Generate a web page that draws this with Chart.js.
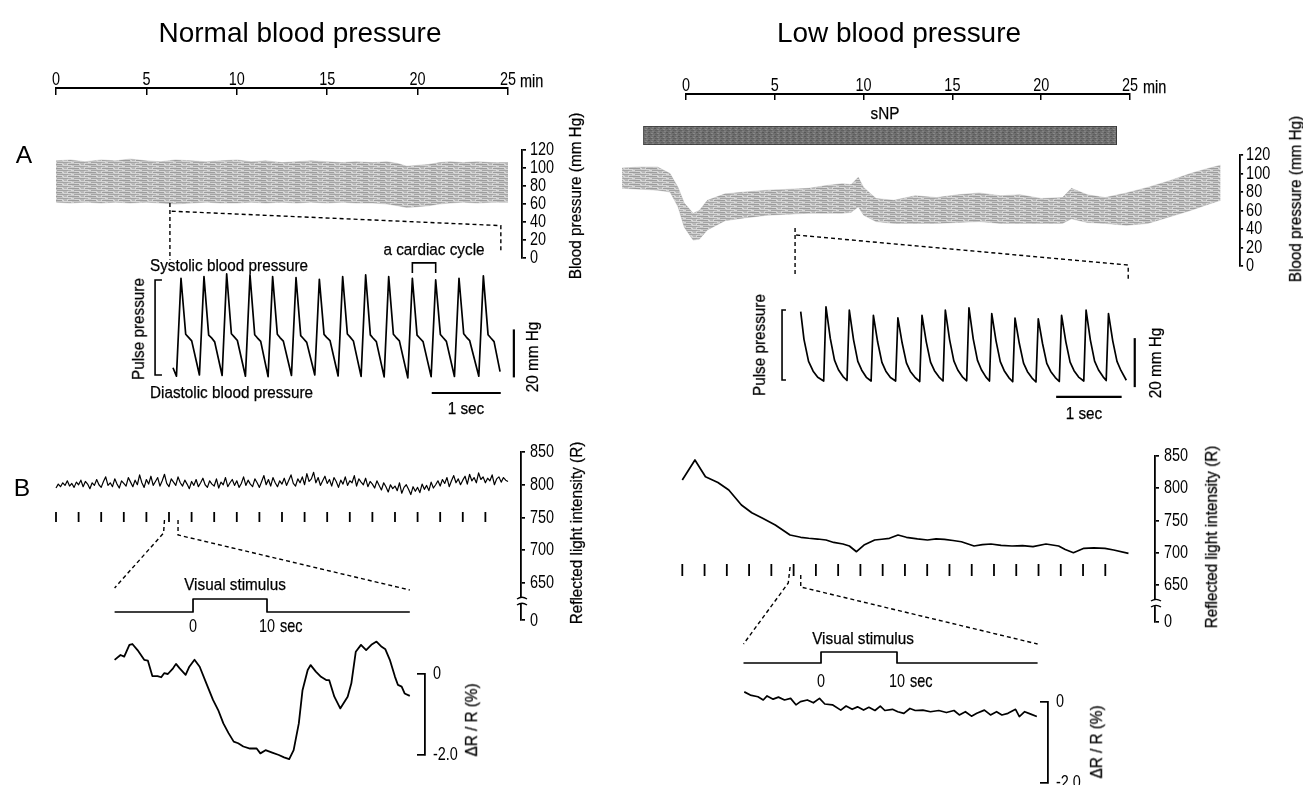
<!DOCTYPE html>
<html>
<head>
<meta charset="utf-8">
<title>Normal vs low blood pressure</title>
<script src="https://cdn.jsdelivr.net/npm/chart.js@4.4.1/dist/chart.umd.min.js"></script>
<style>
html,body{margin:0;padding:0;background:#fff;}
#fig{position:relative;width:1303px;height:785px;overflow:hidden;background:#fff;}
#fig canvas{position:absolute;left:0;top:0;}
.t{position:absolute;white-space:nowrap;color:#000;line-height:1;z-index:5;-webkit-text-stroke:0.25px #000;}
.c{transform-origin:50% 50%;}
.l{transform-origin:0 50%;}
.r{transform-origin:50% 50%;}
</style>
</head>
<body>
<div id="fig"></div>
<script>
// ================= DATA =================
const TIME_TICKS_MIN = [0, 5, 10, 15, 20, 25];
const BP_TICKS = [0, 20, 40, 60, 80, 100, 120];
const R_TICK_POS = [593, 650, 700, 750, 800, 850];      // 593 = position of the "0" below the axis break
const R_TICK_LABELS = ['0', '650', '700', '750', '800', '850'];
const DR_TICKS = [-2, 0];
const DR_TICK_LABELS = ['-2.0', '0'];
const STIM_LABEL_TICKS = [0, 10];
const STIM_TICK_LABELS = ['0', '10'];
const STIM_TIMES_MIN = [0, 1.25, 2.5, 3.75, 5, 6.25, 7.5, 8.75, 10, 11.25, 12.5, 13.75, 15, 16.25, 17.5, 18.75, 20, 21.25, 22.5, 23.75];
const STIM_STEP_V = [0, 0, 1, 1, 0, 0];

// ---- Normal blood pressure ----
const BP_L_T   = [0, 0.8, 1.6, 2.5, 3.3, 4.1, 5.0, 5.8, 6.6, 7.5, 8.3, 9.1, 10.0, 10.8, 11.6, 12.5, 13.3, 14.1, 15.0, 15.8, 16.6, 17.5, 18.3, 18.9, 19.4, 20.0, 20.6, 21.2, 21.8, 22.5, 23.3, 24.1, 25.0];
const BP_L_TOP = [108, 109, 107, 109, 108, 110, 108, 107, 109, 108, 107, 108, 109, 107, 108, 106, 107, 108, 107, 106, 107, 106, 107, 105, 102, 103, 104, 106, 107, 106, 107, 106, 106];
const BP_L_BOT = [62, 61, 62, 61, 62, 61, 62, 61, 60, 61, 62, 61, 61, 62, 61, 62, 61, 62, 61, 62, 61, 61, 60, 58, 56, 57, 58, 60, 61, 62, 61, 62, 62];

const PULSE_L_T = [0, 0.05, 0.116, 0.184, 0.222, 0.271, 0.383, 0.449, 0.517, 0.555, 0.604, 0.712, 0.778, 0.846, 0.884, 0.933, 1.05, 1.116, 1.184, 1.222, 1.271, 1.378, 1.444, 1.512, 1.55, 1.599, 1.717, 1.783, 1.851, 1.889, 1.938, 2.055, 2.121, 2.189, 2.227, 2.276, 2.393, 2.459, 2.527, 2.565, 2.614, 2.726, 2.792, 2.86, 2.898, 2.947, 3.06, 3.126, 3.194, 3.232, 3.281, 3.403, 3.469, 3.537, 3.575, 3.624, 3.741, 3.807, 3.875, 3.913, 3.962, 4.079, 4.145, 4.213, 4.251, 4.3, 4.432, 4.498, 4.566, 4.604, 4.653, 4.74];
const PULSE_L_V = [67, 63.5, 104.3, 81, 79.8, 78.2, 64, 105, 80.6, 79.6, 77.8, 63.8, 106.1, 81.2, 80, 78.4, 63.5, 105.7, 80.8, 79.5, 78, 63.3, 105, 81, 79.6, 78.1, 63.8, 104.6, 80.4, 79.2, 77.6, 64, 103.9, 80.9, 79.7, 78.3, 63.6, 105, 81.1, 79.9, 78.2, 63.4, 105.7, 80.7, 79.4, 77.9, 63.2, 105, 81, 79.7, 78.2, 62.8, 104.3, 80.6, 79.4, 77.9, 63.3, 103.6, 80.9, 79.6, 78, 63.4, 104.3, 81.2, 79.8, 78.3, 63.5, 105.3, 80.8, 79.5, 77.9, 65.4];

const REFL_L_STEP_MIN = 0.125;
const REFL_L_V = [795,801,797,803,799,806,798,802,796,804, 800,807,797,805,801,794,803,799,808,800,
  796,805,812,799,803,797,809,801,795,806, 802,798,811,804,797,807,800,815,803,796,
  808,801,813,799,805,811,798,806,816,802, 797,809,804,799,812,803,798,807,801,794,
  805,799,808,797,803,810,800,796,806,801, 798,809,795,804,800,811,797,803,808,799,
  806,796,802,812,799,807,801,797,809,803, 796,805,814,800,808,798,811,803,797,806,
  801,810,799,807,815,802,798,809,803,812, 800,817,805,809,819,803,811,799,806,813,
  802,808,798,811,805,796,807,801,812,799, 806,803,814,798,809,804,800,810,797,805,
  801,795,806,799,792,803,797,789,800,794, 798,791,803,787,796,800,793,785,797,790,
  796,788,801,793,799,791,804,795,800,806, 798,808,802,811,797,806,814,803,809,800,
  807,813,801,816,806,811,803,818,808,812, 803,810,806,815,800,809,812,804,811,807, 805];

const STIM_STEP_T_L = [-10.6, 0, 0, 10, 10, 29.3];
const DR_L_T = [-10.6,-9.8,-9.3,-8.6,-8.2,-7.5,-6.6,-6.1,-5.5,-4.8,-4.3,-3.9,-3.4,-2.7,-2.3,-1.8,-1.0,-0.5,0.2,0.9,1.8,2.7,3.4,4.1,4.8,5.5,6.1,6.8,7.7,8.6,9.1,9.8,10.7,11.6,12.3,13.0,13.6,14.3,14.8,15.5,15.9,16.6,17.3,18.0,18.4,19.1,19.9,20.9,21.4,22.0,22.7,23.4,24.1,24.8,25.5,26.0,26.6,27.3,27.7,28.2,28.6,29.3];
const DR_L_V = [0.35,0.47,0.43,0.72,0.74,0.59,0.35,0.33,-0.05,-0.05,-0.08,0.02,0,0.14,0.25,0.14,-0.02,0.18,0.35,0.18,-0.23,-0.64,-0.89,-1.22,-1.46,-1.67,-1.71,-1.79,-1.84,-1.84,-1.96,-1.88,-1.94,-2.0,-2.06,-2.1,-1.88,-1.22,-0.4,0.1,0.22,0.06,-0.07,-0.15,-0.15,-0.56,-0.85,-0.56,-0.23,0.55,0.72,0.59,0.72,0.8,0.67,0.61,0.35,-0.07,-0.27,-0.31,-0.48,-0.54];

// ---- Low blood pressure ----
const SNP_MIN = [-2.4, 24.25];
const BP_R_T   = [-3.6, -2.6, -1.6, -0.9, -0.45, -0.1, 0.4, 0.75, 1.2, 2.2, 3.3, 4.6, 5.8, 6.9, 7.9, 8.8, 9.3, 9.7, 10.0, 10.7, 11.7, 12.9, 14.1, 15.3, 16.5, 17.7, 18.8, 20.0, 21.2, 21.7, 22.6, 23.6, 24.8, 26.0, 27.2, 28.4, 29.3, 30.1];
const BP_R_TOP = [106, 107, 107, 100, 85, 68, 57, 60, 71, 78, 80, 82, 83, 84, 87, 89, 88, 96, 85, 73, 71, 76, 74, 77, 79, 76, 77, 73, 74, 84, 77, 74, 79, 85, 92, 100, 105, 109];
const BP_R_BOT = [84, 83, 82, 80, 64, 42, 28, 29, 39, 49, 52, 55, 56, 57, 57, 57, 58, 64, 55, 48, 46, 46, 46, 47, 48, 46, 46, 46, 46, 51, 47, 46, 44, 46, 53, 60, 66, 71];

const PULSE_R_T = [0, 0.05, 0.12, 0.19, 0.26, 0.351,
  0.386, 0.451, 0.516, 0.576, 0.646, 0.707,  0.742, 0.807, 0.872, 0.932, 1.002, 1.075,
  1.11, 1.175, 1.24, 1.3, 1.37, 1.449,  1.484, 1.549, 1.614, 1.674, 1.744, 1.817,
  1.852, 1.917, 1.982, 2.042, 2.112, 2.173,  2.208, 2.273, 2.338, 2.398, 2.468, 2.534,
  2.569, 2.634, 2.699, 2.759, 2.829, 2.882,  2.917, 2.982, 3.047, 3.107, 3.177, 3.237,
  3.272, 3.337, 3.402, 3.462, 3.532, 3.592,  3.627, 3.692, 3.757, 3.817, 3.887, 3.948,
  3.983, 4.048, 4.113, 4.173, 4.243, 4.322,  4.357, 4.422, 4.487, 4.547, 4.617, 4.664,
  4.699, 4.764, 4.829, 4.889, 4.971];
const PULSE_R_V = [73.3, 62, 53, 49, 46.5, 45,
  75.3, 62.5, 53.5, 49.6, 46.8, 45.2,  73.9, 61.8, 53, 49.4, 46.5, 45,
  71.8, 60.9, 52.6, 49, 46.4, 45,  70.8, 60.5, 52.4, 48.9, 46.5, 44.8,
  71.8, 61, 52.7, 49.2, 46.6, 45,  73.9, 61.9, 53.2, 49.5, 46.7, 45.1,
  74.9, 62.2, 53.4, 49.6, 46.6, 45,  72.5, 61.4, 52.9, 49.2, 46.4, 44.7,
  70.7, 60.4, 52.3, 48.8, 46.2, 44.6,  70.4, 60.3, 52.2, 48.9, 46.4, 44.8,
  71.8, 61, 52.7, 49.2, 46.6, 45,  73.9, 61.8, 53.1, 49.5, 46.7, 45.2,
  72.5, 61.4, 53, 49.3, 45.3];

const REFL_R_T = [0,0.71,1.3,2.0,2.61,3.32,3.9,4.51,5.22,6.05,6.65,7.1,7.6,8.07,8.5,9.02,9.38,9.78,10.2,10.8,11.2,11.63,12.11,12.58,13.2,13.77,14.25,14.72,15.2,15.67,16.38,16.85,17.33,17.9,18.51,19.1,19.69,20.42,21.13,21.5,21.96,22.55,23.1,23.73,24.22,25.05];
const REFL_R_V = [812.8,843.8,817.9,809,797.3,774,762,753.4,743,727.5,724,722.5,721.3,719.8,716,713.6,710.5,701.6,712,719.8,721,722.4,727.5,724,721.5,719.8,721.5,720.9,719,717.1,710.5,712.5,713.6,711.5,710.5,711,709.4,713.6,710.5,705,700.1,706.9,707.5,706.9,704.3,699.1];

const STIM_STEP_T_R = [-10.2, 0, 0, 10, 10, 28.5];
const DR_R_T = [-10.1,-9.3,-8.3,-7.6,-7.1,-6.3,-5.6,-4.8,-4.0,-3.3,-2.7,-1.8,-1.0,-0.2,0.5,1.5,2.6,3.3,4.1,4.8,5.6,6.3,7.1,7.8,8.4,9.4,10.1,10.9,11.7,12.4,13.4,14.4,15.5,16.5,17.5,18.2,19.0,19.8,20.5,21.5,22.3,23.1,23.8,24.6,25.6,26.1,26.8,27.6,28.4];
const DR_R_V = [0.25,0.17,0.13,0.05,0.15,0.07,0.12,0.05,0.09,-0.07,0.01,0.05,-0.02,0.09,-0.05,-0.07,-0.2,-0.1,-0.18,-0.12,-0.2,-0.13,-0.21,-0.1,-0.21,-0.18,-0.24,-0.28,-0.16,-0.21,-0.2,-0.24,-0.21,-0.26,-0.21,-0.32,-0.24,-0.35,-0.28,-0.2,-0.32,-0.24,-0.32,-0.28,-0.18,-0.36,-0.24,-0.3,-0.36];

// ================= FONTS =================
const FIG = document.getElementById('fig');
const CW = 1360, CHH = 840;
const meas = document.createElement('canvas').getContext('2d');
function tw(str, fam, size) { meas.font = size + 'px ' + fam; return meas.measureText(str).width; }
const SANS = '"Liberation Sans", Arial, Helvetica, sans-serif';
const LBL_SIZE = 16.3;                                                   // cap height ~11.7 px
const LBL_SQUEEZE = Math.min(1, 158 / tw('Systolic blood pressure', SANS, LBL_SIZE));
const TICK_SIZE = 19;
const TICK_SQUEEZE = 0.76;                                               // condensed look of the tick numerals
const TITLE_SIZE = 100 * 283 / tw('Normal blood pressure', SANS, 100);
const INK = '#000';
Chart.defaults.color = INK;
Chart.defaults.font.family = SANS;

// condensed tick numerals (Helvetica Condensed look): squeeze text horizontally about its anchor
Chart.register({ id: 'condense', beforeDraw(c) {
  const ctx = c.ctx; if (ctx.__condensed) return; ctx.__condensed = true;
  const orig = ctx.fillText.bind(ctx);
  ctx.fillText = function (text, x, y) { ctx.save(); ctx.translate(x, y); ctx.scale(TICK_SQUEEZE, 1); orig(text, 0, 0); ctx.restore(); };
} });

// ================= HELPERS =================
const CH = {};
const xy = (T, V) => T.map((t, i) => ({ x: t, y: V[i] }));
const hid = (min, max) => ({ type: 'linear', display: false, min, max });
const tickFont = () => ({ family: SANS, size: TICK_SIZE });
function trace(T, V, w) {
  return { data: xy(T, V), borderColor: INK, borderWidth: w, pointRadius: 0, tension: 0, fill: false, clip: false, borderJoinStyle: 'round' };
}
function makeChart(key, box, config, ax) {
  ax = ax || {};
  const cv = document.createElement('canvas');
  cv.width = CW; cv.height = CHH;
  cv.style.width = CW + 'px'; cv.style.height = CHH + 'px';
  FIG.appendChild(cv);
  const o = config.options || (config.options = {});
  o.responsive = false; o.maintainAspectRatio = false; o.animation = false; o.events = []; o.devicePixelRatio = 1;
  o.layout = { padding: { left: box.l, top: box.t - (ax.top || 0), right: CW - box.r - (ax.right || 0), bottom: CHH - box.b - (ax.bottom || 0) } };
  o.plugins = Object.assign({ legend: { display: false }, tooltip: { enabled: false } }, o.plugins || {});
  CH[key] = new Chart(cv, config);
  return CH[key];
}
function topTimeAxis(h) {
  return { type: 'linear', position: 'top', min: 0, max: 25,
    afterBuildTicks: s => { s.ticks = TIME_TICKS_MIN.map(v => ({ value: v })); },
    afterFit: s => { s.height = h; },
    ticks: { autoSkip: false, maxRotation: 0, minRotation: 0, color: INK, font: tickFont(), padding: 8 - 0.6 * TICK_SIZE, callback: v => String(v) },
    grid: { display: true, drawOnChartArea: true, drawTicks: false, color: INK, lineWidth: 1.5 },
    border: { display: true, color: INK, width: 2 } };
}
const outTicks = { display: true, drawOnChartArea: false, drawTicks: true, tickLength: 4, color: INK, lineWidth: 1.7 };
const inTicks = { display: true, drawOnChartArea: true, drawTicks: false, color: INK, lineWidth: 1.7 };
function rightAxis(min, max, vals, labels, w, pad, grid) {
  return { type: 'linear', position: 'right', min, max,
    afterBuildTicks: s => { s.ticks = vals.map(v => ({ value: v })); },
    afterFit: s => { s.width = w; },
    ticks: { autoSkip: false, color: INK, font: tickFont(), padding: pad, callback: (v, i) => labels[i] },
    grid, border: { display: true, color: INK, width: 1.8 } };
}
function stimAxis(min, max, pad) {
  return { type: 'linear', position: 'bottom', min, max,
    afterBuildTicks: s => { s.ticks = STIM_LABEL_TICKS.map(v => ({ value: v })); },
    afterFit: s => { s.height = 30; },
    ticks: { autoSkip: false, maxRotation: 0, minRotation: 0, color: INK, font: tickFont(), padding: pad, callback: (v, i) => STIM_TICK_LABELS[i] },
    grid: { display: false, drawTicks: false }, border: { display: false } };
}
function strokePts(ctx, pts, dash, w) {
  ctx.save();
  ctx.strokeStyle = INK; ctx.lineWidth = w || 1.4; ctx.setLineDash(dash || []);
  ctx.beginPath();
  pts.forEach((p, i) => i ? ctx.lineTo(p[0], p[1]) : ctx.moveTo(p[0], p[1]));
  ctx.stroke(); ctx.restore();
}
const DASH = [4, 3];
function scaleFns(c) {
  return [v => c.scales.x.getPixelForValue(v), v => c.scales.y.getPixelForValue(v)];
}
// dashed "zoom" guides from the band (values in the chart's own units)
function zoomA(lines) {
  return { id: 'zoomA', afterDraw(c) {
    const [X, Y] = scaleFns(c);
    lines.forEach(L => strokePts(c.ctx, L.map(p => [X(p[0]), Y(p[1])]), DASH, 1.4));
  } };
}
// brackets and calibration bars of the pulse traces
function pulseDecor(p) {
  return { id: 'pulseDecor', afterDraw(c) {
    const [X, Y] = scaleFns(c), ctx = c.ctx;
    strokePts(ctx, [[X(p.br[1]), Y(p.br[2])], [X(p.br[0]), Y(p.br[2])], [X(p.br[0]), Y(p.br[3])], [X(p.br[1]), Y(p.br[3])]], null, 1.6);
    strokePts(ctx, [[X(p.vbar[0]), Y(p.vbar[1])], [X(p.vbar[0]), Y(p.vbar[2])]], null, 2.2);
    strokePts(ctx, [[X(p.hbar[0]), Y(p.hbar[2])], [X(p.hbar[1]), Y(p.hbar[2])]], null, 2.2);
    if (p.cyc) strokePts(ctx, [[X(p.cyc[0]), Y(p.cyc[3])], [X(p.cyc[0]), Y(p.cyc[2])], [X(p.cyc[1]), Y(p.cyc[2])], [X(p.cyc[1]), Y(p.cyc[3])]], null, 1.6);
  } };
}
function breakMark(val) {
  return { id: 'brk', afterDraw(c) {
    const s = c.scales.y, x = s.left + 1, y = s.getPixelForValue(val), ctx = c.ctx;
    ctx.save(); ctx.fillStyle = '#fff'; ctx.fillRect(x - 3, y - 3, 6, 6);
    ctx.strokeStyle = INK; ctx.lineWidth = 1.3;
    [-3, 3].forEach(d => { ctx.beginPath(); ctx.moveTo(x - 5, y + d + 1); ctx.quadraticCurveTo(x, y + d - 2.5, x + 5, y + d + 1); ctx.stroke(); });
    ctx.restore();
  } };
}
function zoomB(tickKey, pts) {
  return { id: 'zoomB', afterDraw(c) {
    const T = CH[tickKey], tx = v => T.scales.x.getPixelForValue(v), tb = T.chartArea.bottom;
    const sx = v => c.scales.x.getPixelForValue(v), st = c.chartArea.top;
    pts.forEach(p => strokePts(c.ctx, [[tx(p[0]), tb + p[1]], [tx(p[2]), tb + p[3]], [sx(p[4]), st + p[5]]], DASH, 1.4));
  } };
}
function tile(w, h, base, specks) {
  const pc = document.createElement('canvas'); pc.width = w; pc.height = h;
  const g = pc.getContext('2d'); g.fillStyle = base; g.fillRect(0, 0, w, h);
  specks.forEach(s => { g.fillStyle = s[0]; g.fillRect(s[1], s[2], s[3], s[4]); });
  return g.createPattern(pc, 'repeat');
}
// streaky horizontal hatching like the chart-recorder band
const BAND_FILL = tile(17, 4, '#d6d6d6', [
  ['#9c9c9c', 0, 0, 11, 1], ['#b4b4b4', 13, 0, 3, 1],
  ['#c4c4c4', 4, 1, 8, 1],
  ['#a4a4a4', 6, 2, 11, 1], ['#b0b0b0', 0, 2, 3, 1],
  ['#cacaca', 1, 3, 6, 1], ['#bcbcbc', 12, 3, 4, 1]]);
const SNP_FILL = tile(6, 4, '#707070', [['#585858', 0, 0, 2, 1], ['#888888', 3, 1, 2, 1], ['#606060', 1, 2, 3, 1], ['#828282', 4, 3, 2, 1]]);
function band(T, TOP, BOT) {
  return [
    { data: xy(T, TOP), borderColor: 'rgba(140,140,140,0.45)', borderWidth: 0.6, pointRadius: 0, fill: false, tension: 0 },
    { data: xy(T, BOT), borderColor: 'rgba(140,140,140,0.45)', borderWidth: 0.6, pointRadius: 0, fill: '-1', backgroundColor: BAND_FILL, tension: 0 }
  ];
}

// ================= NORMAL BLOOD PRESSURE (left) =================
makeChart('timeL', { l: 56, r: 508, t: 88, b: 95 },
  { type: 'scatter', data: { datasets: [] }, options: { scales: { x: topTimeAxis(26), y: hid(0, 1) } } }, { top: 26 });

makeChart('bpL', { l: 56, r: 522, t: 150, b: 258 },
  { type: 'line', data: { datasets: band(BP_L_T, BP_L_TOP, BP_L_BOT) },
    options: { scales: { x: hid(0, 25.77), y: rightAxis(0, 120, BP_TICKS, BP_TICKS.map(String), 48, 4, outTicks) } },
    plugins: [zoomA([[[6.3, 61], [6.3, -2]], [[6.4, 52], [24.6, 36], [24.6, 8]]])] }, { right: 48 });

makeChart('pulseL', { l: 173, r: 500.75, t: 269.4, b: 384.6 },
  { type: 'line', data: { datasets: [trace(PULSE_L_T, PULSE_L_V, 1.7)] },
    options: { scales: { x: hid(0, 4.75), y: hid(60, 108) } },
    plugins: [pulseDecor({ br: [-0.26, -0.16, 103.6, 64], vbar: [4.94, 63, 83], hbar: [3.75, 4.75, 56.5], cyc: [3.469, 3.807, 110.7, 106.5] })] });

const REFL_L_T = REFL_L_V.map((_, i) => i * REFL_L_STEP_MIN);
makeChart('reflL', { l: 56, r: 521, t: 452, b: 620.3 },
  { type: 'line', data: { datasets: [trace(REFL_L_T, REFL_L_V, 1.2)] },
    options: { scales: { x: hid(0, 25.72), y: rightAxis(593, 850, R_TICK_POS, R_TICK_LABELS, 48, 5, outTicks) } },
    plugins: [breakMark(622.5)] }, { right: 48 });

makeChart('ticksL', { l: 56, r: 521, t: 512, b: 522 },
  { type: 'scatter', data: { datasets: [{ data: STIM_TIMES_MIN.map(t => ({ x: t, y: 0.5 })), pointStyle: 'line', pointRotation: 90, pointRadius: 5, pointBorderWidth: 1.8, pointBorderColor: INK, borderColor: INK, clip: false }] },
    options: { scales: { x: hid(0, 25.72), y: hid(0, 1) } } });

makeChart('stimL', { l: 114.6, r: 409.8, t: 599, b: 612 },
  { type: 'line', data: { datasets: [trace(STIM_STEP_T_L, STIM_STEP_V, 1.7)] },
    options: { scales: { x: stimAxis(-10.6, 29.3, 15 - 0.6 * TICK_SIZE), y: hid(0, 1) } },
    plugins: [zoomB('ticksL', [[6.0, -2, 5.95, 11, -10.6, -11], [6.75, -2, 6.75, 13, 29.3, -9]])] }, { bottom: 30 });

makeChart('drL', { l: 114.6, r: 409.8, t: 674, b: 755 },
  { type: 'line', data: { datasets: [trace(DR_L_T, DR_L_V, 1.8)] },
    options: { scales: { x: hid(-10.6, 29.3), y: hid(-2, 0) } } });

makeChart('drAxL', { l: 417, r: 425, t: 674, b: 755 },
  { type: 'scatter', data: { datasets: [] },
    options: { scales: { x: hid(0, 1), y: rightAxis(-2, 0, DR_TICKS, DR_TICK_LABELS, 44, 8, inTicks) } } }, { right: 44 });

// ================= LOW BLOOD PRESSURE (right) =================
makeChart('timeR', { l: 686, r: 1130, t: 94, b: 100 },
  { type: 'scatter', data: { datasets: [] }, options: { scales: { x: topTimeAxis(26), y: hid(0, 1) } } }, { top: 26 });

makeChart('snp', { l: 622.1, r: 1240.1, t: 126, b: 145 },
  { type: 'bar', data: { labels: ['sNP'], datasets: [{ data: [SNP_MIN], backgroundColor: SNP_FILL, borderColor: '#3a3a3a', borderWidth: 1, borderSkipped: false, barPercentage: 1, categoryPercentage: 1 }] },
    options: { indexAxis: 'y', scales: { x: hid(-3.6, 31.2), y: { type: 'category', display: false } } } });

makeChart('bpR', { l: 622.1, r: 1240.1, t: 155, b: 266 },
  { type: 'line', data: { datasets: band(BP_R_T, BP_R_TOP, BP_R_BOT) },
    options: { scales: { x: hid(-3.6, 31.2), y: rightAxis(0, 120, BP_TICKS, BP_TICKS.map(String), 48, 3, Object.assign({}, outTicks, { tickLength: 3 })) } },
    plugins: [zoomA([[[6.14, 41], [6.14, -12]], [[6.2, 33.5], [24.9, 1], [24.9, -15]]])] }, { right: 48 });

makeChart('pulseR', { l: 800.7, r: 1128.2, t: 295.25, b: 393.25 },
  { type: 'line', data: { datasets: [trace(PULSE_R_T, PULSE_R_V, 1.7)] },
    options: { scales: { x: hid(0, 5), y: hid(40, 80) } },
    plugins: [pulseDecor({ br: [-0.285, -0.225, 74, 45.4], vbar: [5.1, 42.5, 62.5], hbar: [3.9, 4.9, 38.5] })] });

makeChart('reflR', { l: 682.3, r: 1155, t: 456, b: 621.8 },
  { type: 'line', data: { datasets: [trace(REFL_R_T, REFL_R_V, 1.7)] },
    options: { scales: { x: hid(0, 26.54), y: rightAxis(593, 850, R_TICK_POS, R_TICK_LABELS, 48, 5, outTicks) } },
    plugins: [breakMark(622)] }, { right: 48 });

makeChart('ticksR', { l: 682.3, r: 1155, t: 564, b: 576 },
  { type: 'scatter', data: { datasets: [{ data: STIM_TIMES_MIN.map(t => ({ x: t, y: 0.5 })), pointStyle: 'line', pointRotation: 90, pointRadius: 6, pointBorderWidth: 1.8, pointBorderColor: INK, borderColor: INK, clip: false }] },
    options: { scales: { x: hid(0, 26.54), y: hid(0, 1) } } });

makeChart('stimR', { l: 743.5, r: 1037.6, t: 652, b: 663 },
  { type: 'line', data: { datasets: [trace(STIM_STEP_T_R, STIM_STEP_V, 1.7)] },
    options: { scales: { x: stimAxis(-10.2, 28.5, 19 - 0.6 * TICK_SIZE), y: hid(0, 1) } },
    plugins: [zoomB('ticksR', [[6.05, -9, 5.95, 7, -10.2, -8], [6.65, -1, 6.65, 11, 28.5, -8]])] }, { bottom: 30 });

makeChart('drR', { l: 743.5, r: 1037.6, t: 702, b: 783 },
  { type: 'line', data: { datasets: [trace(DR_R_T, DR_R_V, 1.7)] },
    options: { scales: { x: hid(-10.2, 28.5), y: hid(-2, 0) } } });

makeChart('drAxR', { l: 1040, r: 1048, t: 702, b: 783 },
  { type: 'scatter', data: { datasets: [] },
    options: { scales: { x: hid(0, 1), y: rightAxis(-2, 0, DR_TICKS, DR_TICK_LABELS, 44, 8, inTicks) } } }, { right: 44 });

// ================= TEXT =================
const TEXTS = [
  ['Normal blood pressure', 300, 33, 'c', 'title'],
  ['Low blood pressure', 899, 33, 'c', 'title'],
  ['A', 24, 155, 'c', 'panel'],
  ['B', 22, 488, 'c', 'panel'],
  ['min', 520, 80, 'l', 'tick'],
  ['min', 1143, 86, 'l', 'tick'],
  ['sNP', 885, 113, 'c', 'lbl'],
  ['a cardiac cycle', 434, 249, 'c', 'lbl'],
  ['Systolic blood pressure', 150, 265, 'l', 'lbl'],
  ['Diastolic blood pressure', 150, 392, 'l', 'lbl'],
  ['Pulse pressure', 138, 329, 'r', 'lbl'],
  ['Pulse pressure', 759, 345, 'r', 'lbl'],
  ['20 mm Hg', 532, 357, 'r', 'lbl'],
  ['20 mm Hg', 1155, 363, 'r', 'lbl'],
  ['1 sec', 466, 408, 'c', 'lbl'],
  ['1 sec', 1084, 413, 'c', 'lbl'],
  ['Blood pressure (mm Hg)', 575, 196, 'r', 'lbl'],
  ['Blood pressure (mm Hg)', 1295, 199, 'r', 'lbl'],
  ['Reflected light intensity (R)', 576, 533, 'r', 'lbl'],
  ['Reflected light intensity (R)', 1211, 537, 'r', 'lbl'],
  ['Visual stimulus', 235, 584, 'c', 'lbl'],
  ['Visual stimulus', 863, 638, 'c', 'lbl'],
  ['sec', 280, 625, 'l', 'tick'],
  ['sec', 910, 680, 'l', 'tick'],
  ['\u0394R / R (%)', 471, 720, 'r', 'lbl'],
  ['\u0394R / R (%)', 1096, 742, 'r', 'lbl']
];
const KIND = {
  title: [TITLE_SIZE, 1], panel: [TITLE_SIZE * 0.88, 1],
  lbl: [LBL_SIZE, LBL_SQUEEZE], tick: [TICK_SIZE, TICK_SQUEEZE]
};
const MODE_TF = {
  c: k => `translate(-50%,-50%) scaleX(${k})`,
  l: k => `translate(0,-50%) scaleX(${k})`,
  r: k => `translate(-50%,-50%) rotate(-90deg) scaleX(${k})`
};
TEXTS.forEach(([s, x, y, mode, kind]) => {
  const d = document.createElement('div');
  d.className = 't ' + mode; d.textContent = s;
  d.style.left = x + 'px'; d.style.top = y + 'px';
  d.style.fontFamily = SANS; d.style.fontSize = KIND[kind][0] + 'px';
  d.style.transform = MODE_TF[mode](KIND[kind][1]);
  if (kind === 'title' || kind === 'panel') d.style.webkitTextStroke = '0px';
  FIG.appendChild(d);
});
</script>
</body>
</html>
